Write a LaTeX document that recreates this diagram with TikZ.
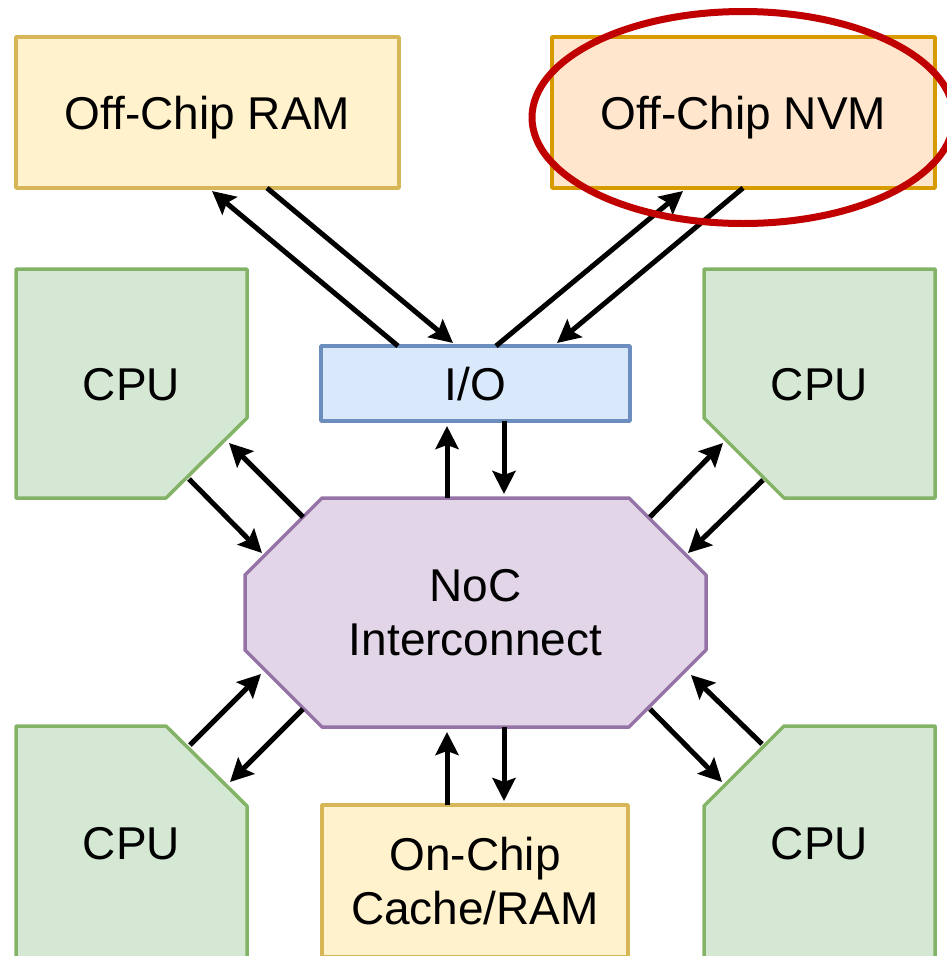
\documentclass[tikz,border=0pt]{standalone}
\usepackage{fontspec}
\setmainfont{Liberation Sans}
\usetikzlibrary{arrows.meta,calc,backgrounds}

\definecolor{yelFill}{HTML}{FFF2CC}\definecolor{yelLine}{HTML}{D6B656}
\definecolor{orgFill}{HTML}{FFE6CC}\definecolor{orgLine}{HTML}{D79B00}
\definecolor{grnFill}{HTML}{D5E8D4}\definecolor{grnLine}{HTML}{82B366}
\definecolor{bluFill}{HTML}{DAE8FC}\definecolor{bluLine}{HTML}{6C8EBF}
\definecolor{purFill}{HTML}{E1D5E7}\definecolor{purLine}{HTML}{9673A6}
\definecolor{hiliteRed}{HTML}{C00000}

\begin{document}
\begin{tikzpicture}[x=1pt,y=-1pt,
  lbl/.style={inner sep=0pt,outer sep=0pt,align=center,
    font=\fontsize{46}{54}\selectfont,text height=33pt,text depth=0pt},
  twoline/.style={text height={},text depth={}},
  box/.style={lbl,draw,line width=3.5pt,line join=round},
  frame/.style={lbl,minimum width=231pt,minimum height=229pt},
  shapeline/.style={line width=3.5pt,line join=round},
  arr/.style={line width=5pt,-{Stealth[length=23pt,width=23pt,inset=4pt]}}]

\useasboundingbox (0,0) rectangle (947,956);

% memory, I/O and cache boxes
\node[box,fill=yelFill,draw=yelLine,minimum width=383pt,minimum height=151pt]
  (ram) at (207.5,112.5) {Off-Chip RAM};
\node[box,fill=orgFill,draw=orgLine,minimum width=383pt,minimum height=151pt]
  (nvm) at (743.5,112.5) {Off-Chip NVM};
\node[box,fill=bluFill,draw=bluLine,minimum width=309pt,minimum height=75pt]
  (io) at (475.5,383.5) {I/O};
\node[box,twoline,fill=yelFill,draw=yelLine,minimum width=306pt,minimum height=152pt]
  (cache) at (475,881) {On-Chip\\Cache/RAM};

% interconnect and processors (outlines drawn behind their labels)
\node[lbl,twoline,minimum width=461pt,minimum height=229pt] (noc) at (475.5,612.5) {NoC\\Interconnect};
\node[frame] (cpuTL) at (131.5,383.5) {CPU};
\node[frame] (cpuTR) at (819.5,383.5) {CPU};
\node[frame,minimum height=234pt] (cpuBL) at (131.5,843) {CPU};
\node[frame,minimum height=234pt] (cpuBR) at (819.5,843) {CPU};

\begin{scope}[on background layer]
  \filldraw[shapeline,fill=purFill,draw=purLine]
    ($(noc.north west)+(77,0)$) -- ($(noc.north east)+(-77,0)$)
    -- ($(noc.north east)+(0,77)$) -- ($(noc.south east)+(0,-77)$)
    -- ($(noc.south east)+(-77,0)$) -- ($(noc.south west)+(77,0)$)
    -- ($(noc.south west)+(0,-77)$) -- ($(noc.north west)+(0,77)$) -- cycle;
  \filldraw[shapeline,fill=grnFill,draw=grnLine]
    (cpuTL.north west) -- (cpuTL.north east) -- ($(cpuTL.south east)+(0,-80)$)
    -- ($(cpuTL.south east)+(-81,0)$) -- (cpuTL.south west) -- cycle;
  \filldraw[shapeline,fill=grnFill,draw=grnLine]
    (cpuTR.north west) -- (cpuTR.north east) -- (cpuTR.south east)
    -- ($(cpuTR.south west)+(80,0)$) -- ($(cpuTR.south west)+(0,-80)$) -- cycle;
  \filldraw[shapeline,fill=grnFill,draw=grnLine]
    (cpuBL.north west) -- ($(cpuBL.north east)+(-81,0)$) -- ($(cpuBL.north east)+(0,80)$)
    -- (cpuBL.south east) -- (cpuBL.south west) -- cycle;
  \filldraw[shapeline,fill=grnFill,draw=grnLine]
    ($(cpuBR.north west)+(80,0)$) -- (cpuBR.north east) -- (cpuBR.south east)
    -- (cpuBR.south west) -- ($(cpuBR.north west)+(0,80)$) -- cycle;
\end{scope}

% off-chip links
\draw[arr] ($(io.north west)+(77,0)$) -- ($(ram.south west)+(196,3)$);
\draw[arr] ($(ram.south west)+(251,0)$) -- ($(io.north west)+(132,-3)$);
\draw[arr] ($(io.north west)+(175,0)$) -- ($(nvm.south west)+(131,3)$);
\draw[arr] ($(nvm.south west)+(191,0)$) -- ($(io.north west)+(236,-3)$);

% I/O and cache links
\draw[arr] ($(noc.north west)+(202,0)$) -- ($(io.south west)+(126,5)$);
\draw[arr] ($(io.south west)+(183,0)$) -- ($(noc.north west)+(259,-4)$);
\draw[arr] ($(cache.north west)+(125,0)$) -- ($(noc.south west)+(202,5)$);
\draw[arr] ($(noc.south west)+(259,0)$) -- ($(cache.north west)+(182,-4)$);

% processor links
\draw[arr] ($(noc.north west)+(58,19)$) -- ($(cpuTL.south east)+(-18,-55)$);
\draw[arr] ($(cpuTL.south east)+(-58,-19)$) -- ($(noc.north west)+(17,55)$);
\draw[arr] ($(noc.north east)+(-56,19)$) -- ($(cpuTR.south west)+(19,-55)$);
\draw[arr] ($(cpuTR.south west)+(59,-18)$) -- ($(noc.north east)+(-18,55)$);
\draw[arr] ($(cpuBL.north east)+(-57,19)$) -- ($(noc.south west)+(16,-53)$);
\draw[arr] ($(noc.south west)+(58,-18)$) -- ($(cpuBL.north east)+(-17,56)$);
\draw[arr] ($(noc.south east)+(-56,-18)$) -- ($(cpuBR.north west)+(18,56)$);
\draw[arr] ($(cpuBR.north west)+(58,18)$) -- ($(noc.south east)+(-15,-52)$);

% highlight ring
\draw[hiliteRed,line width=7pt] (nvm.center) ++(-0.5,5) ellipse [x radius=211pt,y radius=106pt];
\end{tikzpicture}
\end{document}
